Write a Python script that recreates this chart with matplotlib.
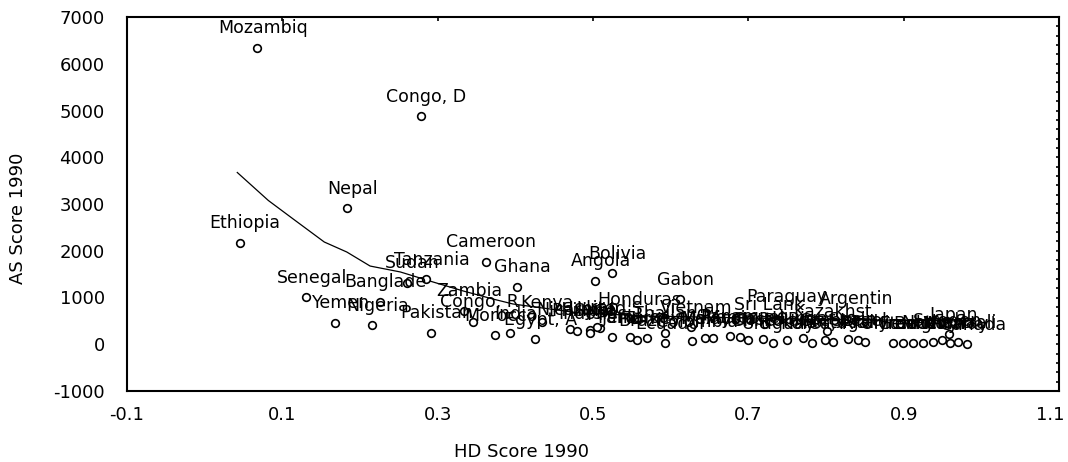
import numpy as np
import matplotlib.pyplot as plt
from matplotlib.ticker import MultipleLocator
from matplotlib.transforms import ScaledTranslation

# labelled countries (names cut to 8 chars like the source)
countries = ['Mozambiq', 'Congo, D', 'Nepal', 'Ethiopia', 'Cameroon', 'Ghana',
             'Bolivia', 'Angola', 'Tanzania', 'Sudan', 'Senegal', 'Banglade',
             'Yemen', 'Nigeria', 'Pakistan', 'Zambia', 'Congo, R', 'Kenya',
             'Morocco', 'India', 'Egypt, A', 'Honduras', 'Gabon', 'Paraguay',
             'Argentin', 'Sri Lank', 'Kazakhst', 'Vietnam', 'Nicaragu', 'Australi',
             'Syria', 'Peru', 'Jamaica', 'Brazil', 'Turkey', 'Thailand',
             'Ecuador', 'Colombia', 'Mexico', 'Malaysia', 'Panama', 'Venezuel',
             'Chile', 'Costa Ri', 'Uruguay', 'Poland', 'Hungary', 'Korea, R',
             'Greece', 'Portugal', 'Spain', 'Israel', 'Italy', 'United K',
             'France', 'Germany', 'Belgium', 'Netherla', 'Sweden', 'Norway',
             'Japan', 'Canada', 'United S', 'Iran', 'Indonesi', 'Philippi']
hd_score = [0.068, 0.278, 0.183, 0.045, 0.362, 0.402,
            0.524, 0.503, 0.285, 0.260, 0.131, 0.226,
            0.168, 0.216, 0.291, 0.334, 0.346, 0.434,
            0.374, 0.393, 0.425, 0.553, 0.612, 0.743,
            0.832, 0.720, 0.801, 0.626, 0.470, 0.970,
            0.496, 0.524, 0.548, 0.557, 0.569, 0.593,
            0.593, 0.627, 0.644, 0.654, 0.676, 0.689,
            0.699, 0.719, 0.732, 0.750, 0.770, 0.782,
            0.799, 0.809, 0.828, 0.841, 0.850, 0.886,
            0.899, 0.912, 0.925, 0.938, 0.949, 0.960,
            0.958, 0.982, 0.509, 0.505, 0.496, 0.480]
as_score = [6343, 4882, 2914, 2172, 1766, 1231,
            1518, 1359, 1396, 1317, 1004, 910,
            461, 412, 247, 720, 482, 476,
            198, 234, 106, 540, 968, 604,
            562, 433, 283, 369, 320, 48,
            305, 155, 155, 91, 134, 241,
            27, 70, 134, 134, 176, 155,
            91, 112, 27, 91, 134, 27,
            91, 48, 112, 91, 48, 27,
            27, 27, 27, 48, 91, 27,
            220, 5, 341, 369, 241, 290]

# smoothed fit drawn through the scatter
trend_x = [0.042, 0.082, 0.114, 0.154, 0.183, 0.213, 0.252, 0.294,
           0.333, 0.371, 0.397, 0.483, 0.573, 0.767, 0.982]
trend_y = [3674, 3075, 2679, 2187, 1973, 1673, 1546, 1332,
           1139, 968, 861, 668, 604, 540, 497]

plt.rcParams['font.family'] = ['DejaVu Sans']

fig = plt.figure(figsize=(10.68, 4.62), dpi=100)
ax = fig.add_axes([127/1068, 71/462, 932/1068, 374/462])

ax.plot(trend_x, trend_y, color='black', lw=0.9, zorder=2)
ax.plot(hd_score, as_score, 'o', ms=5.5, mfc='white', mec='black', mew=1.2,
        ls='none', zorder=3)
for name, x, y in zip(countries, hd_score, as_score):
    ax.annotate(name, (x, y), xytext=(4, 14), textcoords='offset points',
                ha='center', va='center', fontsize=12.5, color='black', zorder=4)

ax.set_xlim(-0.1, 1.1)
ax.set_ylim(-1000, 7000)
ax.set_xticks(np.arange(-0.1, 1.11, 0.2))
ax.set_xticklabels(['-0.1', '0.1', '0.3', '0.5', '0.7', '0.9', '1.1'])
ax.set_yticks(np.arange(-1000, 7001, 1000))
ax.set_yticklabels([str(v) for v in range(-1000, 7001, 1000)])
ax.yaxis.set_minor_locator(MultipleLocator(200))

ax.tick_params(axis='x', which='major', bottom=False, top=True, direction='in',
               length=3, width=1.2, labelsize=13, pad=11)
ax.tick_params(axis='y', which='major', left=False, right=True, direction='in',
               length=2, width=1.2, labelsize=13, pad=16)
ax.tick_params(axis='y', which='minor', left=False, right=True, direction='in',
               length=2, width=1.2)

# last x label sits against the figure edge, nudge it in a little
last = ax.get_xticklabels()[-1]
last.set_transform(last.get_transform() + ScaledTranslation(-6/72, 0, fig.dpi_scale_trans))

for sp in ax.spines.values():
    sp.set_linewidth(1.5)

ax.set_xlabel('HD Score 1990', fontsize=13)
ax.xaxis.set_label_coords(0.423, -0.14)
ax.set_ylabel('AS Score 1990', fontsize=13)
ax.yaxis.set_label_coords(-0.107, 0.463)

fig.savefig('out.png', dpi=100)
